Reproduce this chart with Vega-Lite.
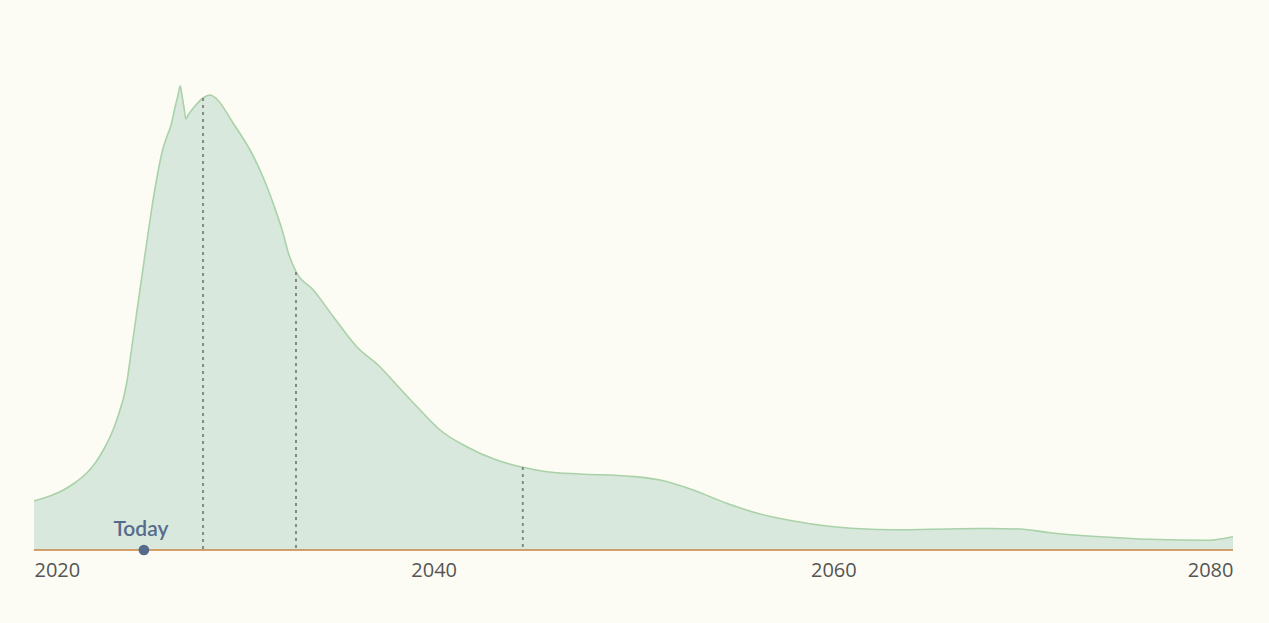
{
  "$schema": "https://vega.github.io/schema/vega-lite/v6.json",
  "width": 1199,
  "height": 490,
  "autosize": {"type": "none"},
  "padding": {"left": 34, "top": 60, "right": 36, "bottom": 73},
  "background": "#fcfcf4",
  "config": {"view": {"stroke": null}},
  "datasets": {
    "curve": [
      {"year": 2020.00, "value": 49},
      {"year": 2020.80, "value": 54},
      {"year": 2021.47, "value": 60},
      {"year": 2022.10, "value": 68},
      {"year": 2022.64, "value": 77},
      {"year": 2023.10, "value": 88},
      {"year": 2023.47, "value": 100},
      {"year": 2023.85, "value": 115},
      {"year": 2024.14, "value": 130},
      {"year": 2024.64, "value": 167},
      {"year": 2024.89, "value": 202},
      {"year": 2025.13, "value": 236},
      {"year": 2025.38, "value": 271},
      {"year": 2025.63, "value": 306},
      {"year": 2025.88, "value": 340},
      {"year": 2026.13, "value": 370},
      {"year": 2026.41, "value": 398},
      {"year": 2026.66, "value": 414},
      {"year": 2026.86, "value": 425},
      {"year": 2027.06, "value": 443},
      {"year": 2027.21, "value": 455},
      {"year": 2027.32, "value": 464.3},
      {"year": 2027.41, "value": 454},
      {"year": 2027.51, "value": 442},
      {"year": 2027.60, "value": 431},
      {"year": 2027.70, "value": 434.5},
      {"year": 2028.06, "value": 444},
      {"year": 2028.46, "value": 452},
      {"year": 2028.81, "value": 455},
      {"year": 2029.14, "value": 451},
      {"year": 2029.96, "value": 427},
      {"year": 2030.81, "value": 400},
      {"year": 2031.46, "value": 373},
      {"year": 2031.96, "value": 347},
      {"year": 2032.46, "value": 317},
      {"year": 2032.73, "value": 297},
      {"year": 2033.11, "value": 278.3},
      {"year": 2033.98, "value": 260},
      {"year": 2034.98, "value": 233.3},
      {"year": 2036.15, "value": 203.3},
      {"year": 2037.31, "value": 183.3},
      {"year": 2038.15, "value": 165},
      {"year": 2039.32, "value": 140},
      {"year": 2040.32, "value": 120},
      {"year": 2041.65, "value": 103.3},
      {"year": 2043.15, "value": 90},
      {"year": 2044.46, "value": 82.7},
      {"year": 2045.66, "value": 78.3},
      {"year": 2047.32, "value": 76},
      {"year": 2049.66, "value": 74},
      {"year": 2051.33, "value": 70},
      {"year": 2052.99, "value": 60},
      {"year": 2054.66, "value": 46.7},
      {"year": 2056.33, "value": 36},
      {"year": 2058.00, "value": 29},
      {"year": 2059.67, "value": 24},
      {"year": 2061.34, "value": 21.3},
      {"year": 2063.00, "value": 20.3},
      {"year": 2066.34, "value": 21.3},
      {"year": 2067.84, "value": 21.5},
      {"year": 2069.34, "value": 21},
      {"year": 2070.84, "value": 17.3},
      {"year": 2073.35, "value": 13.3},
      {"year": 2075.85, "value": 10.7},
      {"year": 2078.85, "value": 9.7},
      {"year": 2079.34, "value": 11},
      {"year": 2080.00, "value": 13.3}
    ],
    "markers": [
      {"year": 2028.46, "top": 452},
      {"year": 2033.11, "top": 278},
      {"year": 2044.46, "top": 83}
    ],
    "today": [
      {"year": 2025.5, "value": 0, "label": "Today"}
    ]
  },
  "layer": [
    {
      "data": {"name": "curve"},
      "mark": {"type": "area", "interpolate": "monotone", "color": "#d9e8dc", "opacity": 1},
      "encoding": {
        "x": {
          "field": "year",
          "type": "quantitative",
          "scale": {"domain": [2020, 2080], "nice": false, "zero": false},
          "axis": {
            "values": [2020, 2040, 2060, 2080],
            "format": "d",
            "title": null,
            "grid": false,
            "ticks": false,
            "domain": false,
            "labelFlush": true,
            "labelFont": "Open Sans",
            "labelFontSize": 20,
            "labelColor": "#555555",
            "labelPadding": 10
          }
        },
        "y": {
          "field": "value",
          "type": "quantitative",
          "scale": {"domain": [0, 490], "nice": false},
          "axis": null
        }
      }
    },
    {
      "data": {"name": "curve"},
      "mark": {"type": "line", "interpolate": "monotone", "color": "#a9d2a9", "strokeWidth": 1.6},
      "encoding": {
        "x": {"field": "year", "type": "quantitative"},
        "y": {"field": "value", "type": "quantitative"}
      }
    },
    {
      "data": {"name": "markers"},
      "mark": {"type": "rule", "color": "#888888", "strokeWidth": 2, "strokeDash": [3, 4]},
      "encoding": {
        "x": {"field": "year", "type": "quantitative"},
        "y": {"field": "top", "type": "quantitative"},
        "y2": {"datum": 0}
      }
    },
    {
      "data": {"name": "today"},
      "mark": {"type": "rule", "color": "#c8843e", "strokeWidth": 1.6},
      "encoding": {
        "y": {"field": "value", "type": "quantitative"}
      }
    },
    {
      "data": {"name": "today"},
      "mark": {"type": "point", "filled": true, "color": "#566b8c", "opacity": 1, "size": 115},
      "encoding": {
        "x": {"field": "year", "type": "quantitative"},
        "y": {"field": "value", "type": "quantitative"}
      }
    },
    {
      "data": {"name": "today"},
      "mark": {"type": "text", "color": "#566b8c", "font": "Lato", "fontWeight": 600, "fontSize": 21, "dy": -20, "dx": -3, "baseline": "middle", "align": "center"},
      "encoding": {
        "x": {"field": "year", "type": "quantitative"},
        "y": {"field": "value", "type": "quantitative"},
        "text": {"field": "label"}
      }
    }
  ]
}
